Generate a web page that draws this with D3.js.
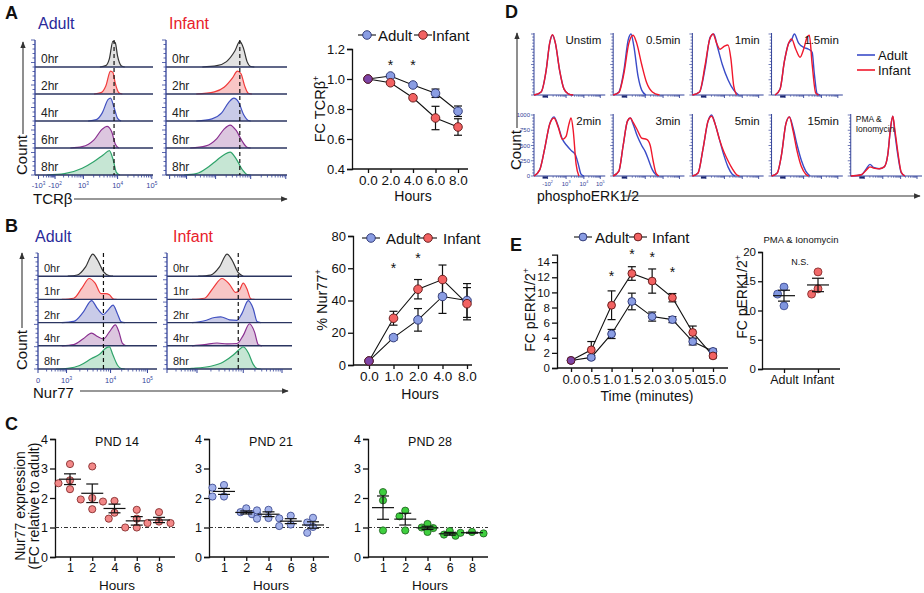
<!DOCTYPE html>
<html><head><meta charset="utf-8">
<script src="https://cdn.jsdelivr.net/npm/d3@7"></script>
<style>body{margin:0;background:#fff}</style>
</head><body><svg id="c" width="924" height="593"></svg>
<script>
// ================= DATA =================
// Panel A histograms (TCRβ), x in channel units 0-100, y relative count 0-1
const tcrRows = ["0hr","2hr","4hr","6hr","8hr"];
const tcrAdultHist = [
  [[55,0],[60,0.05],[63,0.3],[66,0.95],[68,0.9],[70,0.4],[73,0.05],[76,0]],
  [[50,0],[56,0.05],[60,0.3],[64,0.85],[66,0.8],[68,0.4],[71,0.05],[74,0]],
  [[45,0],[52,0.05],[57,0.3],[62,0.8],[64,0.85],[67,0.5],[70,0.1],[73,0]],
  [[30,0],[40,0.05],[50,0.3],[57,0.7],[61,0.8],[65,0.6],[68,0.15],[71,0]],
  [[10,0],[25,0.05],[40,0.25],[50,0.5],[58,0.75],[63,0.9],[66,0.6],[69,0.1],[72,0]]
];
const tcrInfantHist = [
  [[30,0],[42,0.05],[50,0.2],[57,0.6],[61,0.95],[64,0.7],[67,0.2],[70,0.02],[73,0]],
  [[25,0],[40,0.08],[48,0.25],[55,0.6],[59,0.85],[62,0.75],[65,0.3],[68,0.03],[71,0]],
  [[25,0],[38,0.08],[46,0.3],[52,0.7],[56,0.85],[60,0.7],[64,0.25],[68,0.02],[70,0]],
  [[20,0],[33,0.08],[42,0.35],[48,0.7],[53,0.85],[58,0.65],[63,0.25],[67,0.03],[70,0]],
  [[15,0],[25,0.05],[35,0.3],[42,0.55],[48,0.75],[53,0.85],[58,0.6],[63,0.2],[67,0.02],[70,0]]
];
const tcrDash = [67, 61];
const tcrTickPos = [3,17,41,70,99];
const tcrTickLabels = [["-10","3"],["-10","2"],["10","3"],["10","4"],["10","5"]];

// Panel B histograms (Nur77)
const nurRows = ["0hr","1hr","2hr","4hr","8hr"];
const nurAdultHist = [
  [[25,0],[33,0.05],[40,0.4],[46,0.95],[50,0.7],[55,0.2],[60,0.02],[63,0]],
  [[20,0],[30,0.05],[37,0.5],[43,0.9],[48,0.7],[53,0.25],[57,0.25],[60,0.2],[63,0.03],[66,0]],
  [[20,0],[30,0.05],[38,0.45],[45,0.95],[50,0.6],[55,0.35],[59,0.55],[63,0.75],[67,0.35],[70,0.03],[73,0]],
  [[20,0],[30,0.05],[38,0.3],[45,0.55],[50,0.4],[55,0.3],[60,0.6],[65,0.9],[68,0.6],[71,0.1],[74,0]],
  [[15,0],[25,0.03],[35,0.15],[45,0.45],[52,0.65],[57,0.9],[60,0.95],[63,0.6],[67,0.15],[70,0.02],[73,0]]
];
const nurInfantHist = [
  [[25,0],[35,0.05],[42,0.4],[48,0.95],[52,0.7],[57,0.15],[61,0]],
  [[20,0],[30,0.05],[37,0.5],[44,0.9],[50,0.65],[55,0.3],[58,0.4],[61,0.7],[64,0.45],[67,0.03],[70,0]],
  [[20,0],[30,0.08],[38,0.22],[43,0.25],[50,0.12],[56,0.1],[60,0.4],[65,0.95],[69,0.6],[72,0.05],[75,0]],
  [[20,0],[30,0.05],[40,0.12],[48,0.08],[56,0.1],[61,0.45],[66,0.95],[70,0.6],[73,0.05],[76,0]],
  [[10,0],[20,0.03],[35,0.12],[45,0.3],[53,0.6],[58,0.85],[61,0.95],[65,0.7],[69,0.2],[72,0.02],[75,0]]
];
const nurDash = [55, 57];
const nurTickPos = [0,24,61,92];
const nurTickLabels = [["0",""],["10","3"],["10","4"],["10","5"]];

// Panel A line chart
const tcrHours = ["0.0","2.0","4.0","6.0","8.0"];
const tcrAdultMean = [1.0,1.02,0.96,0.905,0.785];
const tcrAdultSem  = [0,0.008,0.012,0.028,0.035];
const tcrInfantMean = [1.0,0.975,0.875,0.74,0.68];
const tcrInfantSem  = [0,0.01,0.012,0.078,0.055];
const tcrStars = [["2.0",1.1],["4.0",1.1]];
const tcrYTicks = [0.4,0.6,0.8,1.0,1.2];

// Panel B line chart
const nurHours = ["0.0","1.0","2.0","4.0","8.0"];
const nurAdultMean = [2.5,17,28,42.5,40];
const nurAdultSem  = [0,1.5,7,10.5,10.5];
const nurInfantMean = [2.5,29,47,53,38];
const nurInfantSem  = [0,4.3,6,9,10];
const nurStars = [["1.0",61],["2.0",67]];
const nurYTicks = [0,20,40,60,80];

// Panel C
const pndHours = ["1","2","4","6","8"];
const pndTitles = ["PND 14","PND 21","PND 28"];
const pnd14 = [[3.15,2.6,2.5,2.3],[3.07,2.0,1.95,1.62],[1.88,1.9,1.5,1.3],[1.6,1.3,1.0,1.0],[1.52,1.2,1.15,1.15]];
const pnd21 = [[2.35,2.44,2.05,2.05],[1.65,1.52,1.45,1.42],[1.58,1.6,1.32,1.3],[1.31,1.4,1.05,1.1],[1.33,1.17,1.02,0.82]];
const pnd28 = [[2.2,1.92,0.9],[1.57,1.38,0.9],[1.12,0.85,0.98,1.0],[0.72,0.88,0.76],[0.82,0.85,0.8]];
const pndYTicks = [0,1,2,3,4];

// Panel D histograms (phosphoERK1/2)
const dTitles = ["Unstim","0.5min","1min","1.5min","2min","3min","5min","15min","PMA &|Ionomycin"];
const dAdult = [
  [[0,0],[10,0.05],[17,0.4],[22,0.85],[26,0.98],[30,0.85],[36,0.4],[42,0.1],[48,0.02],[55,0]],
  [[0,0],[8,0.05],[15,0.4],[21,0.9],[25,1.0],[29,0.8],[35,0.3],[40,0.08],[46,0]],
  [[0,0],[10,0.05],[18,0.45],[25,0.95],[30,1.0],[35,0.8],[42,0.5],[50,0.25],[58,0.08],[65,0]],
  [[5,0],[12,0.1],[18,0.55],[24,0.85],[28,0.9],[32,1.0],[38,0.85],[45,0.78],[52,0.75],[57,0.7],[60,0.35],[64,0.02],[68,0]],
  [[0,0],[8,0.1],[15,0.45],[22,0.85],[28,0.97],[33,0.85],[40,0.6],[46,0.5],[52,0.42],[58,0.35],[62,0.2],[66,0.03],[70,0]],
  [[0,0],[8,0.08],[14,0.5],[20,0.9],[24,0.95],[28,0.85],[34,0.65],[40,0.5],[45,0.4],[50,0.25],[55,0.1],[60,0.02],[64,0]],
  [[0,0],[8,0.05],[15,0.45],[22,0.9],[27,1.0],[32,0.85],[38,0.6],[44,0.35],[50,0.15],[56,0.03],[60,0]],
  [[0,0],[8,0.05],[14,0.35],[20,0.85],[25,0.97],[30,0.8],[36,0.5],[42,0.25],[48,0.08],[54,0]],
  [[0,0],[15,0.02],[22,0.12],[27,0.19],[32,0.14],[40,0.12],[47,0.15],[52,0.35],[56,0.8],[59,0.98],[62,0.7],[66,0.35],[71,0.05],[76,0]]
];
const dInfant = [
  [[0,0],[10,0.05],[17,0.4],[22,0.85],[26,0.99],[30,0.85],[36,0.4],[42,0.1],[48,0.02],[55,0]],
  [[0,0],[8,0.04],[15,0.35],[22,0.85],[28,0.98],[33,0.85],[40,0.5],[47,0.2],[55,0.05],[65,0]],
  [[0,0],[10,0.05],[18,0.5],[24,0.9],[29,1.0],[34,0.85],[39,0.75],[45,0.8],[50,0.82],[54,0.6],[58,0.15],[62,0]],
  [[5,0],[12,0.1],[18,0.55],[24,0.85],[28,0.92],[34,0.75],[40,0.62],[45,0.75],[50,0.95],[53,0.98],[57,0.5],[62,0.03],[66,0]],
  [[0,0],[8,0.1],[15,0.45],[22,0.85],[28,0.95],[34,0.8],[40,0.6],[45,0.65],[49,0.85],[52,0.95],[55,0.75],[59,0.2],[63,0]],
  [[0,0],[8,0.08],[14,0.5],[20,0.9],[24,0.95],[28,0.88],[34,0.75],[40,0.62],[47,0.6],[52,0.5],[56,0.25],[60,0.05],[64,0]],
  [[0,0],[8,0.05],[15,0.45],[22,0.9],[27,0.98],[32,0.85],[38,0.6],[44,0.4],[50,0.25],[56,0.12],[62,0.02],[66,0]],
  [[0,0],[8,0.05],[14,0.35],[20,0.85],[25,0.97],[30,0.75],[36,0.4],[42,0.15],[48,0.03],[52,0]],
  [[0,0],[15,0.02],[22,0.1],[27,0.15],[32,0.13],[40,0.12],[47,0.15],[52,0.35],[56,0.8],[59,0.98],[62,0.75],[66,0.4],[71,0.06],[76,0]]
];
const dTickPos = [19,45,70,93];
const dTickLabels = [["-10","2"],["10","3"],["10","4"],["10","5"]];
const dYTicks = [0,250,500,750,1000];

// Panel E
const timeCats = ["0.0","0.5","1.0","1.5","2.0","3.0","5.0","15.0"];
const erkAdultMean = [1.0,1.4,4.5,8.8,6.8,6.4,3.5,2.2];
const erkAdultSem  = [0,0.25,0.6,1.1,0.6,0.4,0.45,0.3];
const erkInfantMean = [1.0,2.4,8.3,12.5,11.5,9.3,4.7,1.6];
const erkInfantSem  = [0,1.1,1.9,0.9,1.6,0.55,0.85,0.25];
const erkStars = [["1.0",12.3],["1.5",15.2],["2.0",14.8],["3.0",12.8]];
const erkYTicks = [0,2,4,6,8,10,12,14];
const pmaGroups = ["Adult","Infant"];
const pmaAdult = [14.0,12.8,10.8];
const pmaInfant = [16.6,13.7,12.8];
const pmaYTicks = [0,5,10,15,20];

// ================= DRAWING =================
const FONT = "Arial, 'Liberation Sans', sans-serif";
const NAVY = "#33439a";
const AD = {fill:"#8a9de3", stroke:"#27306e"};
const IN = {fill:"#f26262", stroke:"#5c1414"};
const OVERLAP = "#7d45a8";
const svg = d3.select("#c").attr("font-family", FONT);
svg.append("rect").attr("width",924).attr("height",593).attr("fill","#fff");
const defs = svg.append("defs");
defs.append("marker").attr("id","arr").attr("viewBox","0 0 10 10").attr("refX",9).attr("refY",5)
  .attr("markerWidth",6).attr("markerHeight",6).attr("orient","auto")
  .append("path").attr("d","M0,1 L10,5 L0,9 z").attr("fill","#333");

function txt(g,x,y,s,o={}){
  const t=g.append("text").attr("x",x).attr("y",y).text(s)
    .attr("font-size",o.size||13).attr("fill",o.fill||"#111")
    .attr("text-anchor",o.anchor||"start").attr("font-weight",o.weight||"normal");
  if(o.rotate) t.attr("transform",`rotate(-90,${x},${y})`);
  return t;
}
function supTxt(g,x,y,base,sup,o={}){
  const s=o.size||13;
  const t=g.append("text").attr("x",x).attr("y",y).attr("font-size",s).attr("fill",o.fill||"#111")
    .attr("text-anchor",o.anchor||"start");
  if(o.rotate) t.attr("transform",`rotate(-90,${x},${y})`);
  t.append("tspan").text(base);
  if(sup) t.append("tspan").attr("dy",-s*0.42).attr("font-size",s*0.62).text(sup);
  return t;
}
function arrow(x1,y1,x2,y2){
  svg.append("line").attr("x1",x1).attr("y1",y1).attr("x2",x2).attr("y2",y2)
    .attr("stroke","#333").attr("stroke-width",1.1).attr("marker-end","url(#arr)");
}

// ---- histogram stacks ----
const rowColors = [
  {s:"#333333", f:"#e2e2e2"},
  {s:"#f03a3a", f:"#f8c6c6"},
  {s:"#4050c0", f:"#c9cbe8"},
  {s:"#8a3090", f:"#dcc6df"},
  {s:"#2fa36a", f:"#c6e6d4"}
];
function histStack(o){
  const g=svg.append("g");
  const x=d3.scaleLinear().domain([0,100]).range([o.x0,o.x1]);
  const bottom=o.top+o.rowH*o.rows.length;
  o.rows.forEach((pts,i)=>{
    const base=o.top+o.rowH*(i+1);
    const y=d3.scaleLinear().domain([0,1]).range([base,base-o.rowH]);
    g.append("path").attr("d",d3.area().x(d=>x(d[0])).y0(base).y1(d=>y(d[1])).curve(d3.curveMonotoneX)(pts))
      .attr("fill",rowColors[i].f);
    g.append("path").attr("d",d3.line().x(d=>x(d[0])).y(d=>y(d[1])).curve(d3.curveMonotoneX)(pts))
      .attr("fill","none").attr("stroke",rowColors[i].s).attr("stroke-width",1.2);
    g.append("line").attr("x1",o.x0).attr("x2",o.x1).attr("y1",base).attr("y2",base)
      .attr("stroke","#2b3560").attr("stroke-width",1.4);
    txt(g,o.x0+6,base-4,o.labels[i],{size:o.lfs,fill:"#222"});
  });
  g.append("line").attr("x1",x(o.dash)).attr("x2",x(o.dash)).attr("y1",o.top).attr("y2",bottom)
    .attr("stroke","#111").attr("stroke-width",1.2).attr("stroke-dasharray","4,3");
  g.append("line").attr("x1",o.x0).attr("x2",o.x0).attr("y1",o.top).attr("y2",bottom).attr("stroke",NAVY).attr("stroke-width",1.3);
  const n=Math.round((bottom-o.top)/4.5);
  d3.range(n+1).forEach(k=>{
    const yy=bottom-k*(bottom-o.top)/n;
    g.append("line").attr("x1",o.x0-(k%5===0?4:2.5)).attr("x2",o.x0).attr("y1",yy).attr("y2",yy).attr("stroke",NAVY).attr("stroke-width",0.8);
  });
  o.tickPos.forEach((p,i)=>{
    g.append("line").attr("x1",x(p)).attr("x2",x(p)).attr("y1",bottom).attr("y2",bottom+4).attr("stroke",NAVY).attr("stroke-width",1);
    if(i<o.tickPos.length-1){
      const a=p,b=o.tickPos[i+1];
      d3.range(2,10).forEach(k=>{
        const xx=x(a+(b-a)*Math.log10(k));
        g.append("line").attr("x1",xx).attr("x2",xx).attr("y1",bottom).attr("y2",bottom+2.5).attr("stroke",NAVY).attr("stroke-width",0.8);
      });
    }
    if(o.tickLabels) supTxt(g,x(p),o.labelY,o.tickLabels[i][0],o.tickLabels[i][1],{size:7.5,fill:NAVY,anchor:"middle"});
  });
}

// ---- line charts ----
function lineChart(o){
  const g=svg.append("g");
  const x=d3.scalePoint().domain(o.cats).range(o.xr);
  const y=d3.scaleLinear().domain(o.yd).range(o.yr);
  const ya=g.append("g").attr("transform",`translate(${o.ax},0)`)
    .call(d3.axisLeft(y).tickValues(o.yticks).tickFormat(o.yfmt).tickSize(5).tickPadding(2));
  const xa=g.append("g").attr("transform",`translate(0,${o.yr[0]})`)
    .call(d3.axisBottom(x).tickSize(4).tickPadding(o.xpad||2));
  xa.select(".domain").remove();
  ya.attr("font-family",FONT).attr("font-size",o.fsy);
  xa.attr("font-family",FONT).attr("font-size",o.fsx);
  [ya,xa].forEach(a=>{a.selectAll("line,path").attr("stroke","#111").attr("stroke-width",1.3);a.selectAll("text").attr("fill","#111");});
  g.append("line").attr("x1",o.ax).attr("x2",o.axEnd).attr("y1",o.yr[0]).attr("y2",o.yr[0]).attr("stroke","#111").attr("stroke-width",1.3);
  const S=o.series.map(s=>({s,pts:o.cats.map((c,i)=>({c,i,m:s.mean[i],e:s.sem[i]}))}));
  S.forEach(({pts})=>{
    g.append("path").attr("d",d3.line().x(d=>x(d.c)).y(d=>y(d.m))(pts)).attr("fill","none").attr("stroke","#111").attr("stroke-width",1.1);
  });
  S.forEach(({pts})=>pts.forEach(d=>{
    if(d.e<=0) return;
    const cx=x(d.c);
    g.append("line").attr("x1",cx).attr("x2",cx).attr("y1",y(d.m-d.e)).attr("y2",y(d.m+d.e)).attr("stroke","#111").attr("stroke-width",1.2);
    [d.m-d.e,d.m+d.e].forEach(v=>g.append("line").attr("x1",cx-4).attr("x2",cx+4).attr("y1",y(v)).attr("y2",y(v)).attr("stroke","#111").attr("stroke-width",1.2));
  }));
  S.forEach(({s,pts})=>pts.forEach(d=>{
    const same=o.series[0].mean[d.i]===o.series[1].mean[d.i];
    g.append("circle").attr("cx",x(d.c)).attr("cy",y(d.m)).attr("r",o.r)
      .attr("fill",same?OVERLAP:s.c.fill).attr("stroke",s.c.stroke).attr("stroke-width",0.9);
  }));
  o.stars.forEach(([c,v])=>txt(g,x(c),y(v)+6,"*",{size:14,anchor:"middle"}));
  o.legend.forEach(l=>{
    g.append("line").attr("x1",l.cx-9).attr("x2",l.cx+9).attr("y1",o.legY).attr("y2",o.legY).attr("stroke","#111").attr("stroke-width",1.1);
    g.append("circle").attr("cx",l.cx).attr("cy",o.legY).attr("r",o.r).attr("fill",l.c.fill).attr("stroke",l.c.stroke).attr("stroke-width",0.9);
    txt(g,l.tx,o.legY+5.5,l.label,{size:o.legFs});
  });
  txt(g,o.xtX,o.xtY,o.xTitle,{size:o.xtFs,anchor:"middle"});
  supTxt(g,o.ytX,o.ytY,o.yTitle[0],o.yTitle[1],{size:o.ytFs,anchor:"middle",rotate:true});
}

// ---- scatter (mean ± SEM) ----
function scatter(o){
  const g=svg.append("g");
  const x=d3.scalePoint().domain(o.cats).range(o.xr);
  const y=d3.scaleLinear().domain(o.yd).range(o.yr);
  const ya=g.append("g").attr("transform",`translate(${o.ax},0)`)
    .call(d3.axisLeft(y).tickValues(o.yticks).tickFormat(d3.format("d")).tickSize(o.tsy||5).tickPadding(2));
  const xa=g.append("g").attr("transform",`translate(0,${o.yr[0]})`)
    .call(d3.axisBottom(x).tickSize(4).tickPadding(2));
  xa.select(".domain").remove();
  ya.attr("font-family",FONT).attr("font-size",o.fsy||o.fs);
  xa.attr("font-family",FONT).attr("font-size",o.fs);
  [ya,xa].forEach(a=>{a.selectAll("line,path").attr("stroke","#111").attr("stroke-width",1.3);a.selectAll("text").attr("fill","#111");});
  g.append("line").attr("x1",o.ax).attr("x2",o.axEnd).attr("y1",o.yr[0]).attr("y2",o.yr[0]).attr("stroke","#111").attr("stroke-width",1.3);
  if(o.refLine!=null) g.append("line").attr("x1",o.ax).attr("x2",o.axEnd).attr("y1",y(o.refLine)).attr("y2",y(o.refLine))
      .attr("stroke","#333").attr("stroke-width",1.2).attr("stroke-dasharray","4,2,1,2");
  const R=o.r;
  o.data.forEach((vals,i)=>{
    const c=o.colors[i]||o.colors[0];
    const cx=x(o.cats[i]);
    const placed=[];
    vals.slice().sort((a,b)=>b-a).forEach(v=>{
      const yy=y(v); let px=cx;
      for(const k of [0,-1,1,-2,2]){ px=cx+k*R*1.6; if(placed.every(p=>Math.hypot(p[0]-px,p[1]-yy)>=2*R-0.6)) break; }
      placed.push([px,yy]);
    });
    placed.forEach(p=>g.append("circle").attr("cx",p[0]).attr("cy",p[1]).attr("r",R).attr("fill",c.fill).attr("stroke",c.stroke).attr("stroke-width",0.8));
    const m=d3.mean(vals), se=d3.deviation(vals)/Math.sqrt(vals.length);
    g.append("line").attr("x1",cx-11).attr("x2",cx+11).attr("y1",y(m)).attr("y2",y(m)).attr("stroke","#111").attr("stroke-width",1.2);
    g.append("line").attr("x1",cx).attr("x2",cx).attr("y1",y(m-se)).attr("y2",y(m+se)).attr("stroke","#111").attr("stroke-width",1.2);
    [m-se,m+se].forEach(v=>g.append("line").attr("x1",cx-6).attr("x2",cx+6).attr("y1",y(v)).attr("y2",y(v)).attr("stroke","#111").attr("stroke-width",1.2));
  });
  if(o.title) txt(g,o.titleX,o.titleY,o.title,{size:o.titleFs||13,anchor:"middle"});
  if(o.xTitle) txt(g,o.xtX,o.xtY,o.xTitle,{size:13.5,anchor:"middle"});
}

// ===== Panel A =====
txt(svg,5,19,"A",{size:18,weight:"bold"});
txt(svg,38,29,"Adult",{size:16,fill:"#2a2a9a"});
txt(svg,169,29,"Infant",{size:16,fill:"#e8202a"});
histStack({x0:35,x1:153,top:40,rowH:27,rows:tcrAdultHist,labels:tcrRows,dash:tcrDash[0],lfs:12,tickPos:tcrTickPos,tickLabels:tcrTickLabels,labelY:188});
histStack({x0:166,x1:287,top:40,rowH:27,rows:tcrInfantHist,labels:tcrRows,dash:tcrDash[1],lfs:12,tickPos:tcrTickPos,tickLabels:null});
txt(svg,27,175,"Count",{size:15,anchor:"start",rotate:true});
arrow(23,134,23,42);
supTxt(svg,33,204,"TCRβ","",{size:15});
arrow(74,199,287,199);

lineChart({cats:tcrHours,xr:[368,458],yd:[0.4,1.2],yr:[169,49],ax:352,axEnd:468,yticks:tcrYTicks,yfmt:d3.format(".1f"),
  fsx:13.5,fsy:13,r:4.3,
  series:[{mean:tcrAdultMean,sem:tcrAdultSem,c:AD},{mean:tcrInfantMean,sem:tcrInfantSem,c:IN}],
  stars:tcrStars,legY:35,legFs:15,legend:[{cx:367,tx:378,label:"Adult",c:AD},{cx:423,tx:432,label:"Infant",c:IN}],
  xTitle:"Hours",xtX:413,xtY:201,xtFs:14,yTitle:["FC TCRβ","+"],ytX:325,ytY:109,ytFs:14.5});

// ===== Panel B =====
txt(svg,5,232,"B",{size:18,weight:"bold"});
txt(svg,35,242,"Adult",{size:16,fill:"#2a2a9a"});
txt(svg,173,242,"Infant",{size:16,fill:"#e8202a"});
histStack({x0:38,x1:157,top:253,rowH:23.2,rows:nurAdultHist,labels:nurRows,dash:nurDash[0],lfs:11,tickPos:nurTickPos,tickLabels:nurTickLabels,labelY:383});
histStack({x0:167,x1:292,top:253,rowH:23.2,rows:nurInfantHist,labels:nurRows,dash:nurDash[1],lfs:11,tickPos:nurTickPos,tickLabels:null});
txt(svg,27,370,"Count",{size:15,rotate:true});
arrow(22,328,22,253);
txt(svg,33,398,"Nur77",{size:15});
arrow(80,391,288,391);

lineChart({cats:nurHours,xr:[369,467],yd:[0,80],yr:[365,236],ax:353,axEnd:472,yticks:nurYTicks,yfmt:d3.format("d"),
  fsx:13.5,fsy:13,r:4.3,
  series:[{mean:nurAdultMean,sem:nurAdultSem,c:AD},{mean:nurInfantMean,sem:nurInfantSem,c:IN}],
  stars:nurStars,legY:238,legFs:15,legend:[{cx:371,tx:386,label:"Adult",c:AD},{cx:428,tx:443,label:"Infant",c:IN}],
  xTitle:"Hours",xtX:420,xtY:399,xtFs:14,yTitle:["% Nur77","+"],ytX:327,ytY:300,ytFs:14.5});

// ===== Panel C =====
txt(svg,5,430,"C",{size:18,weight:"bold"});
const pndColors=[{fill:"#f28888",stroke:"#7a2020"},{fill:"#a3b2ea",stroke:"#34418a"},{fill:"#3fcf3f",stroke:"#1a5a1a"}];
[pnd14,pnd21,pnd28].forEach((d,k)=>{
  const ax=[55,209,368][k];
  scatter({cats:pndHours,xr:[ax+15,ax+104],yd:[0,4],yr:[557,439],ax,axEnd:ax+120,yticks:pndYTicks,fs:12.5,r:3.6,
    data:d,colors:[pndColors[k]],refLine:1,title:pndTitles[k],titleX:ax+62,titleY:446,titleFs:12.5,
    xTitle:"Hours",xtX:ax+62,xtY:590});
});
txt(svg,25,506,"Nur77 expression",{size:14,anchor:"middle",rotate:true});
txt(svg,39,506,"(FC relative to adult)",{size:14,anchor:"middle",rotate:true});

// ===== Panel D =====
txt(svg,505,18,"D",{size:18,weight:"bold"});
const dBand=d3.scaleBand().domain(d3.range(5)).range([534,922]).paddingInner(0.1);
const dRowTop=[33,114], dRowH=62;
dTitles.forEach((t,i)=>{
  const row=i<4?0:1, col=i<4?i:i-4;
  const x0=dBand(col), x1=x0+dBand.bandwidth();
  const top=dRowTop[row], base=top+dRowH;
  const g=svg.append("g");
  const x=d3.scaleLinear().domain([0,100]).range([x0,x1]);
  const y=d3.scaleLinear().domain([0,1]).range([base,top+1]);
  const yc=d3.scaleLinear().domain([0,1000]).range([base,top+1]);
  g.append("line").attr("x1",x0).attr("x2",x0).attr("y1",top).attr("y2",base).attr("stroke",NAVY).attr("stroke-width",1);
  g.append("line").attr("x1",x0).attr("x2",x1).attr("y1",base).attr("y2",base).attr("stroke",NAVY).attr("stroke-width",1);
  d3.range(0,1001,50).forEach(v=>{const yy=yc(v);g.append("line").attr("x1",x0-(v%250===0?3:1.8)).attr("x2",x0).attr("y1",yy).attr("y2",yy).attr("stroke",NAVY).attr("stroke-width",0.7);});
  dTickPos.forEach((p,j)=>{
    g.append("line").attr("x1",x(p)).attr("x2",x(p)).attr("y1",base).attr("y2",base+3).attr("stroke",NAVY).attr("stroke-width",0.9);
    if(j<dTickPos.length-1){const a=p,b=dTickPos[j+1];d3.range(2,10).forEach(k=>{const xx=x(a+(b-a)*Math.log10(k));g.append("line").attr("x1",xx).attr("x2",xx).attr("y1",base).attr("y2",base+1.8).attr("stroke",NAVY).attr("stroke-width",0.6);});}
  });
  g.append("line").attr("x1",x(12)).attr("x2",x(19)).attr("y1",base+1.5).attr("y2",base+1.5).attr("stroke","#1a2570").attr("stroke-width",2.2);
  if(row===1&&col===0){
    dYTicks.forEach(v=>txt(g,x0-4,yc(v)+2,String(v),{size:6,fill:NAVY,anchor:"end"}));
    dTickPos.forEach((p,j)=>supTxt(g,x(p),base+10,dTickLabels[j][0],dTickLabels[j][1],{size:6,fill:NAVY,anchor:"middle"}));
  }
  const ln=d3.line().x(d=>x(d[0])).y(d=>y(d[1])).curve(d3.curveMonotoneX);
  g.append("path").attr("d",ln(dAdult[i])).attr("fill","none").attr("stroke","#3a4cc8").attr("stroke-width",1.4);
  g.append("path").attr("d",ln(dInfant[i])).attr("fill","none").attr("stroke","#f0182c").attr("stroke-width",1.4);
  const parts=t.split("|");
  if(parts.length===1) txt(g,x1-4,top+11,t,{size:11.5,anchor:"end"});
  else parts.forEach((p,k)=>txt(g,x0+5,top+8+k*10,p,{size:8.5}));
});
svg.append("line").attr("x1",857).attr("x2",875).attr("y1",55).attr("y2",55).attr("stroke","#3a4cc8").attr("stroke-width",1.6);
svg.append("line").attr("x1",857).attr("x2",875).attr("y1",70).attr("y2",70).attr("stroke","#f0182c").attr("stroke-width",1.6);
txt(svg,878,59.5,"Adult",{size:13});
txt(svg,878,74.5,"Infant",{size:13});
txt(svg,521,170,"Count",{size:15,rotate:true});
arrow(517,128,517,33);
txt(svg,537,201,"phosphoERK1/2",{size:14});
arrow(622,196,920,196);

// ===== Panel E =====
txt(svg,510,251,"E",{size:18,weight:"bold"});
lineChart({cats:timeCats,xr:[571,713],yd:[0,15],yr:[368,254.6],ax:557,axEnd:728,yticks:erkYTicks,yfmt:d3.format("d"),
  fsx:13,fsy:11.5,r:3.9,xpad:3,
  series:[{mean:erkAdultMean,sem:erkAdultSem,c:AD},{mean:erkInfantMean,sem:erkInfantSem,c:IN}],
  stars:erkStars,legY:237,legFs:15,legend:[{cx:583,tx:595,label:"Adult",c:AD},{cx:638,tx:652,label:"Infant",c:IN}],
  xTitle:"Time (minutes)",xtX:647,xtY:401,xtFs:14,yTitle:["FC pERK1/2","+"],ytX:535,ytY:310,ytFs:14});

scatter({cats:pmaGroups,xr:[784,818],yd:[0,20],yr:[369,252],ax:762,axEnd:840,yticks:pmaYTicks,fs:12.5,fsy:11.5,tsy:4,r:4,
  data:[pmaAdult,pmaInfant],colors:[{fill:"#7f95de",stroke:"#34418a"},{fill:"#f26a6a",stroke:"#7a2020"}],refLine:null,
  title:"PMA & Ionomycin",titleX:801,titleY:243,titleFs:9.5});
txt(svg,800,265,"N.S.",{size:9,anchor:"middle"});
supTxt(svg,747,297,"FC pERK1/2","+",{size:14,anchor:"middle",rotate:true});
</script></body></html>
